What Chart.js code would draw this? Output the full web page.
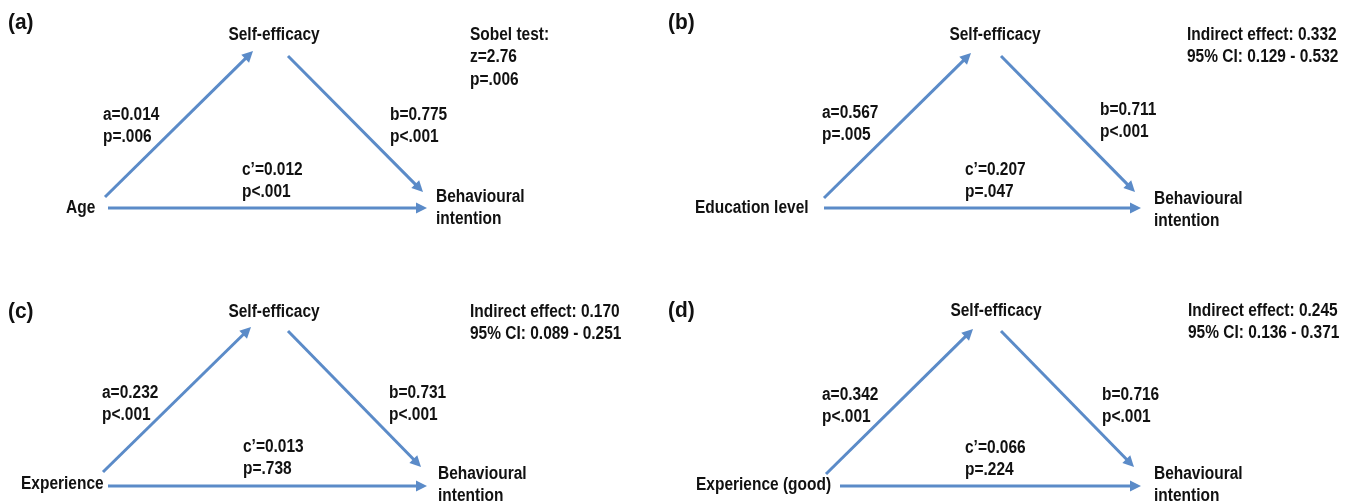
<!DOCTYPE html>
<html>
<head>
<meta charset="utf-8">
<script src="https://cdn.jsdelivr.net/npm/chart.js@4/dist/chart.umd.min.js"></script>
<style>
  html, body { margin: 0; padding: 0; background: #ffffff; }
  #wrap { width: 1355px; height: 504px; }
</style>
</head>
<body>
<div id="wrap"><canvas id="c" width="1355" height="504"></canvas></div>
<script>
// ---------- DATA ----------
const panelLabels = ['(a)', '(b)', '(c)', '(d)'];
const predictors  = ['Age', 'Education level', 'Experience', 'Experience (good)'];
const mediator    = 'Self-efficacy';
const outcome     = ['Behavioural', 'intention'];
const aPaths      = ['a=0.014', 'a=0.567', 'a=0.232', 'a=0.342'];
const aPvals      = ['p=.006', 'p=.005', 'p<.001', 'p<.001'];
const bPaths      = ['b=0.775', 'b=0.711', 'b=0.731', 'b=0.716'];
const bPvals      = ['p<.001', 'p<.001', 'p<.001', 'p<.001'];
const cPaths      = ['c\u2019=0.012', 'c\u2019=0.207', 'c\u2019=0.013', 'c\u2019=0.066'];
const cPvals      = ['p<.001', 'p=.047', 'p=.738', 'p=.224'];
const statLines   = [
  ['Sobel test:', 'z=2.76', 'p=.006'],
  ['Indirect effect: 0.332', '95% CI: 0.129 - 0.532'],
  ['Indirect effect: 0.170', '95% CI: 0.089 - 0.251'],
  ['Indirect effect: 0.245', '95% CI: 0.136 - 0.371']
];

// ---------- LAYOUT (diagram geometry, in canvas units) ----------
const layout = [
  { label:[8,23],   M:[274,35],  X:[66,208],  Y:[436,197],  stats:[470,35],
    aArr:[105,197,253,51],  bArr:[288,56,423,192],  cArr:[108,208,427,208],
    aTxt:[103,115], bTxt:[390,115], cTxt:[242,170] },
  { label:[668,23], M:[995,35],  X:[695,208], Y:[1154,199], stats:[1187,35],
    aArr:[824,198,971,53],  bArr:[1001,56,1135,192], cArr:[824,208,1141,208],
    aTxt:[822,113], bTxt:[1100,110], cTxt:[965,170] },
  { label:[8,312],  M:[274,312], X:[21,484],  Y:[438,474],  stats:[470,312],
    aArr:[103,472,251,327], bArr:[288,331,421,467], cArr:[108,486,427,486],
    aTxt:[102,393], bTxt:[389,393], cTxt:[243,447] },
  { label:[668,311],M:[996,311], X:[696,485], Y:[1154,474], stats:[1188,311],
    aArr:[826,474,973,329], bArr:[1001,331,1134,467], cArr:[840,486,1141,486],
    aTxt:[822,395], bTxt:[1102,395], cTxt:[965,448] }
];

const ARROW = '#5b8bc8';
const TEXT = '#111111';
const FAMILY = '"Liberation Sans", Arial, Helvetica, sans-serif';
const FONT = 'bold 18px ' + FAMILY;
const TEXT_SX = 0.86;            // condensed look of the original lettering
const LABEL_FONT = 'bold 22px ' + FAMILY;
const LABEL_SX = 0.95;
const LINE_GAP = 22.5;
const HEAD_LEN = 11, HEAD_HALF = 5.5;

// build arrow datasets (shaft ends just behind the arrowhead)
const arrows = [];
layout.forEach(p => ['aArr','bArr','cArr'].forEach(k => arrows.push(p[k])));
const datasets = arrows.map(a => {
  const [x0,y0,x1,y1] = a;
  const len = Math.hypot(x1-x0, y1-y0);
  const ux = (x1-x0)/len, uy = (y1-y0)/len;
  return {
    type: 'line',
    data: [{x:x0, y:y0}, {x:x1 - ux*(HEAD_LEN-2), y:y1 - uy*(HEAD_LEN-2)}],
    borderColor: ARROW, borderWidth: 3, pointRadius: 0, fill: false,
    borderCapStyle: 'butt', tension: 0, tip: [x1, y1], from: [x0, y0]
  };
});

const diagramPlugin = {
  id: 'diagram',
  afterDatasetsDraw(chart) {
    const ctx = chart.ctx;
    const xs = chart.scales.x, ys = chart.scales.y;
    const px = v => xs.getPixelForValue(v), py = v => ys.getPixelForValue(v);
    ctx.save();
    // arrowheads
    chart.data.datasets.forEach(ds => {
      const tx = px(ds.tip[0]), ty = py(ds.tip[1]);
      const fx = px(ds.from[0]), fy = py(ds.from[1]);
      const ang = Math.atan2(ty - fy, tx - fx);
      ctx.save();
      ctx.translate(tx, ty);
      ctx.rotate(ang);
      ctx.beginPath();
      ctx.moveTo(0, 0);
      ctx.lineTo(-HEAD_LEN, -HEAD_HALF);
      ctx.lineTo(-HEAD_LEN, HEAD_HALF);
      ctx.closePath();
      ctx.fillStyle = ARROW;
      ctx.fill();
      ctx.restore();
    });
    // texts
    ctx.fillStyle = TEXT;
    ctx.textBaseline = 'middle';
    let sx = TEXT_SX;
    const put = (t, x, y, align) => {
      ctx.save();
      ctx.textAlign = align || 'left';
      ctx.translate(px(x), py(y));
      ctx.scale(sx, 1);
      ctx.fillText(t, 0, 0);
      ctx.restore();
    };
    layout.forEach((p, i) => {
      ctx.font = LABEL_FONT; sx = LABEL_SX;
      put(panelLabels[i], p.label[0], p.label[1]);
      ctx.font = FONT; sx = TEXT_SX;
      put(mediator, p.M[0], p.M[1], 'center');
      put(predictors[i], p.X[0], p.X[1]);
      put(outcome[0], p.Y[0], p.Y[1]);
      put(outcome[1], p.Y[0], p.Y[1] + LINE_GAP);
      put(aPaths[i], p.aTxt[0], p.aTxt[1]);
      put(aPvals[i], p.aTxt[0], p.aTxt[1] + LINE_GAP);
      put(bPaths[i], p.bTxt[0], p.bTxt[1]);
      put(bPvals[i], p.bTxt[0], p.bTxt[1] + LINE_GAP);
      put(cPaths[i], p.cTxt[0], p.cTxt[1]);
      put(cPvals[i], p.cTxt[0], p.cTxt[1] + LINE_GAP);
      statLines[i].forEach((s, j) => put(s, p.stats[0], p.stats[1] + j * LINE_GAP));
    });
    ctx.restore();
  }
};

new Chart(document.getElementById('c'), {
  type: 'scatter',
  data: { datasets },
  options: {
    responsive: false,
    animation: false,
    events: [],
    layout: { padding: 0 },
    plugins: { legend: { display: false }, tooltip: { enabled: false } },
    scales: {
      x: { type: 'linear', min: 0, max: 1355, display: false },
      y: { type: 'linear', min: 0, max: 504, reverse: true, display: false }
    }
  },
  plugins: [diagramPlugin]
});
</script>
</body>
</html>
